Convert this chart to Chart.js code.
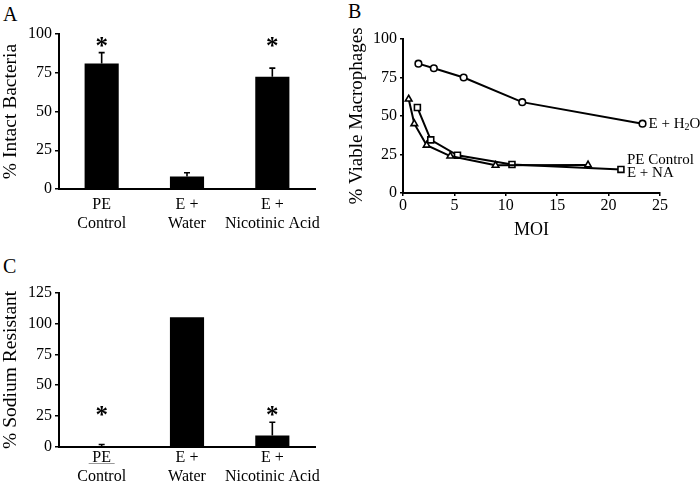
<!DOCTYPE html>
<html><head><meta charset="utf-8">
<script src="https://cdn.jsdelivr.net/npm/chart.js@4"></script>
<style>
body{margin:0;background:#fff;width:700px;height:486px;position:relative;overflow:hidden;font-family:"Liberation Serif","Times New Roman",serif}
.p{position:absolute}
.lab{position:absolute;font-size:20px;line-height:20px;color:#000;font-family:"Liberation Serif","Times New Roman",serif}
</style></head><body>
<div class="lab" style="left:3px;top:4px">A</div>
<div class="lab" style="left:348px;top:1px">B</div>
<div class="lab" style="left:3px;top:256px">C</div>
<div class="p" style="left:0;top:0;width:330px;height:235px"><canvas id="cA"></canvas></div>
<div class="p" style="left:330px;top:0;width:370px;height:260px"><canvas id="cB"></canvas></div>
<div class="p" style="left:0;top:280px;width:330px;height:206px"><canvas id="cC"></canvas></div>
<script>
// ---- data ----
const barCategories = [['PE','Control'],['E +','Water'],['E +','Nicotinic Acid']];
const intactBacteria = [81, 8, 72.5];
const intactBacteriaErrTop = [88, 10.5, 78];
const intactStarLevel = [95, null, 95];
const sodiumResistant = [0.3, 105, 9.3];
const sodiumResistantErrTop = [2, 105, 20];
const sodiumStarLevel = [29.4, null, 29.4];
const yTicksA = [0, 25, 50, 75, 100];
const yTicksC = [0, 25, 50, 75, 100, 125];

const moiH2O = [1.5, 3.0, 5.9, 11.6, 23.3];
const viableH2O = [84, 81, 75, 59, 45];
const moiPE = [0.55, 1.1, 2.3, 4.6, 9.0, 18.0];
const viablePE = [61, 45, 31, 24, 18, 18.2];
const moiNA = [1.4, 2.7, 5.3, 10.6, 21.2];
const viableNA = [55.5, 34.5, 24.5, 18.5, 15.3];
const xTicksB = [0, 5, 10, 15, 20, 25];
const yTicksB = [0, 25, 50, 75, 100];

const SERIF = '"Liberation Serif","Times New Roman",serif';
Chart.defaults.color = '#000';
Chart.defaults.font.family = SERIF;
Chart.defaults.animation = false;

const errStarPlugin = {
  id: 'errStar',
  afterDatasetsDraw(chart, args, opts) {
    const ctx = chart.ctx, x = chart.scales.x, y = chart.scales.y;
    const meta = chart.getDatasetMeta(0);
    ctx.save();
    ctx.strokeStyle = '#000'; ctx.lineWidth = 1.6;
    opts.err.forEach((e, i) => {
      const bar = meta.data[i];
      const px = bar.x, y0 = y.getPixelForValue(opts.vals[i]), y1 = y.getPixelForValue(e);
      if (Math.abs(y0 - y1) > 0.5) {
        ctx.beginPath();
        ctx.moveTo(px, y0); ctx.lineTo(px, y1);
        ctx.moveTo(px - 3, y1); ctx.lineTo(px + 3, y1);
        ctx.stroke();
      }
    });
    ctx.fillStyle = '#000';
    ctx.font = 'bold 25px ' + SERIF;
    ctx.textAlign = 'center'; ctx.textBaseline = 'alphabetic';
    opts.stars.forEach((s, i) => {
      if (s == null) return;
      const px = meta.data[i].x, py = y.getPixelForValue(s);
      ctx.fillText('*', px, py + 0.5 * 25);
    });
    if (opts.underline) {
      const px = x.getPixelForValue(0);
      ctx.strokeStyle = '#999'; ctx.lineWidth = 1;
      ctx.beginPath(); ctx.moveTo(px - 13, chart.chartArea.bottom + 16.5); ctx.lineTo(px + 13, chart.chartArea.bottom + 16.5); ctx.stroke();
    }
    ctx.restore();
  }
};

function makeBar(id, vals, err, stars, yTicks, title, padTop, xHeight, xPad, underline) {
  return new Chart(document.getElementById(id), {
    type: 'bar',
    data: { labels: barCategories, datasets: [{ data: vals, backgroundColor: '#000', borderWidth: 0, barPercentage: 0.4, categoryPercentage: 1 }] },
    options: {
      responsive: true, maintainAspectRatio: false,
      layout: { padding: { top: padTop, right: 15, left: 0, bottom: 0 } },
      plugins: { legend: { display: false }, tooltip: { enabled: false },
        errStar: { err: err, vals: vals, stars: stars, underline: underline } },
      scales: {
        x: {
          grid: { display: false, drawTicks: false },
          border: { display: true, color: '#000', width: 2 },
          ticks: { font: { size: 16, lineHeight: 1.15 }, padding: xPad, maxRotation: 0, autoSkip: false },
          afterFit: s => { s.height = xHeight; }
        },
        y: {
          min: yTicks[0], max: yTicks[yTicks.length - 1],
          afterBuildTicks: s => { s.ticks = yTicks.map(v => ({ value: v })); },
          grid: { display: true, drawOnChartArea: false, drawTicks: true, tickLength: 4, color: '#000', lineWidth: 1.5 },
          border: { display: true, color: '#000', width: 2 },
          ticks: { font: { size: 16 }, padding: 3 },
          title: { display: true, text: title, font: { size: 19.5, lineHeight: 1.1 }, padding: { top: 0, bottom: 0 } },
          afterFit: s => { s.width = 59; }
        }
      }
    },
    plugins: [errStarPlugin]
  });
}

makeBar('cA', intactBacteria, intactBacteriaErrTop, intactStarLevel, yTicksA, '% Intact Bacteria', 34, 46, 7, false);
makeBar('cC', sodiumResistant, sodiumResistantErrTop, sodiumStarLevel, yTicksC, '% Sodium Resistant', 12, 39, 2, true);

// ---- panel B ----
const pts = (xs, ys) => xs.map((v, i) => ({ x: v, y: ys[i] }));
const lineLabels = {
  id: 'lineLabels',
  afterDatasetsDraw(chart) {
    const ctx = chart.ctx;
    ctx.save();
    ctx.fillStyle = '#000';
    ctx.textBaseline = 'middle'; ctx.textAlign = 'left';
    const m0 = chart.getDatasetMeta(0).data, p0 = m0[m0.length - 1];
    let x = p0.x + 6, y = p0.y;
    ctx.font = '15px ' + SERIF;
    ctx.fillText('E + H', x, y);
    x += ctx.measureText('E + H').width;
    ctx.font = '10px ' + SERIF;
    ctx.fillText('2', x, y + 4);
    x += ctx.measureText('2').width;
    ctx.font = '15px ' + SERIF;
    ctx.fillText('O', x, y);
    const m2 = chart.getDatasetMeta(2).data, p2 = m2[m2.length - 1];
    ctx.fillText('PE Control', p2.x + 6, p2.y - 9);
    ctx.fillText('E + NA', p2.x + 6, p2.y + 4);
    ctx.restore();
  }
};
const lineDs = (data, style, r) => ({
  data: data, showLine: true, borderColor: '#000', borderWidth: 2, tension: 0,
  pointStyle: style, pointRadius: r, pointBorderWidth: 1.6, pointBackgroundColor: '#fff', pointBorderColor: '#000', clip: false
});
new Chart(document.getElementById('cB'), {
  type: 'line',
  data: { datasets: [
    lineDs(pts(moiH2O, viableH2O), 'circle', 3.3),
    lineDs(pts(moiPE, viablePE), 'triangle', 3.8),
    lineDs(pts(moiNA, viableNA), 'rect', 4.2)
  ] },
  options: {
    responsive: true, maintainAspectRatio: false,
    layout: { padding: { top: 39, right: 40, left: 0, bottom: 0 } },
    plugins: { legend: { display: false }, tooltip: { enabled: false } },
    scales: {
      x: {
        type: 'linear', min: xTicksB[0], max: xTicksB[xTicksB.length - 1],
        afterBuildTicks: s => { s.ticks = xTicksB.map(v => ({ value: v })); },
        grid: { display: true, drawOnChartArea: false, drawTicks: true, tickLength: 3, color: '#000', lineWidth: 1.5 },
        border: { display: true, color: '#000', width: 2 },
        ticks: { font: { size: 16, lineHeight: 1.15 }, padding: 1, maxRotation: 0 },
        title: { display: true, text: 'MOI', font: { size: 18, lineHeight: 1.2 }, padding: { top: 0, bottom: 19 } },
        afterFit: s => { s.height = 67; }
      },
      y: {
        min: yTicksB[0], max: yTicksB[yTicksB.length - 1],
        afterBuildTicks: s => { s.ticks = yTicksB.map(v => ({ value: v })); },
        grid: { display: true, drawOnChartArea: false, drawTicks: true, tickLength: 3, color: '#000', lineWidth: 1.5 },
        border: { display: true, color: '#000', width: 2 },
        ticks: { font: { size: 16 }, padding: 3 },
        title: { display: true, text: '% Viable Macrophages', font: { size: 19, lineHeight: 1.2 }, padding: { top: 16, bottom: 0 } },
        afterFit: s => { s.width = 73; }
      }
    }
  },
  plugins: [lineLabels]
});
</script>
</body></html>
